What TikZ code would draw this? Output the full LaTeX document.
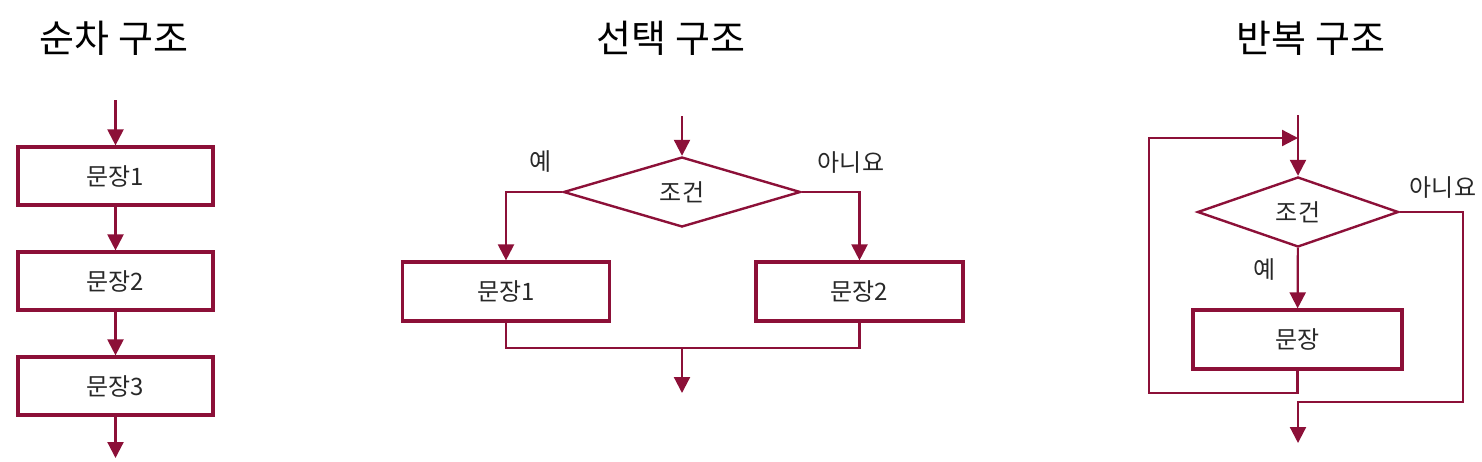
\documentclass[tikz,border=0pt]{standalone}
\usepackage{fontspec}
\setmainfont{Noto Sans CJK KR}
\usetikzlibrary{arrows.meta,shapes.geometric}

\definecolor{flowred}{RGB}{140,16,56}
\definecolor{txtgray}{RGB}{40,40,40}

\tikzset{
  title/.style={font=\fontsize{19}{22}\selectfont, text=black},
  box/.style={draw=flowred, line width=1.6pt, minimum width=97.5pt, minimum height=29pt,
    inner sep=0pt, text=txtgray, font=\fontsize{12}{14}\selectfont},
  cond/.style={diamond, aspect=3, draw=flowred, line width=1.2pt, minimum width=118.5pt,
    minimum height=35pt, inner sep=0pt, text=txtgray, font=\fontsize{12}{14}\selectfont},
  lbl/.style={text=txtgray, font=\fontsize{12}{14}\selectfont},
  line/.style={draw=flowred, line width=1.1pt},
  flow/.style={line, -{Triangle[length=8pt,width=8pt]}}
}

\begin{document}
\begin{tikzpicture}[x=0.5pt,y=-0.5pt]

\useasboundingbox (0,0) rectangle (1482,461);

% ------------------- Links: 순차 구조 -------------------
\node[title] (seqtitle) at (114,38) {순차 구조};

\coordinate (seqin) at (115.5,100);
\node[box] (seq1) at (115.5,176) {문장1};
\node[box] (seq2) at (115.5,281) {문장2};
\node[box] (seq3) at (115.5,386) {문장3};
\coordinate (seqout) at (115.5,458);

\draw[flow] (seqin) -- (seq1);
\draw[flow] (seq1) -- (seq2);
\draw[flow] (seq2) -- (seq3);
\draw[flow] (seq3) -- (seqout);

% ------------------- Mitte: 선택 구조 -------------------
\node[title] (seltitle) at (671,38) {선택 구조};

\coordinate (selin) at (682,116);
\node[cond] (selcond) at (682,192) {조건};
\node[box, minimum width=103.5pt, minimum height=29.5pt] (sel1) at (506,291.5) {문장1};
\node[box, minimum width=103.5pt, minimum height=29.5pt] (sel2) at (859.5,291.5) {문장2};
\coordinate (seljoin) at (682,348);
\coordinate (selout) at (682,393);

% Verzweigung
\draw[flow] (selin) -- (selcond);
\draw[flow] (selcond.west) -| (sel1);
\draw[flow] (selcond.east) -| (sel2);
\node[lbl] (selyes) at (541,162) {예};
\node[lbl] (selno) at (851,163) {아니요};

% Zusammenfuehrung
\draw[line] (sel1.south) |- (seljoin) -| (sel2.south);
\draw[flow] (seljoin) -- (selout);

% ------------------- Rechts: 반복 구조 -------------------
\node[title] (reptitle) at (1311,38) {반복 구조};

\coordinate (repin) at (1298,115);
\node[cond, minimum width=100.5pt] (repcond) at (1298,212) {조건};
\node[box, minimum width=104.5pt, minimum height=29.5pt] (repbody) at (1297.5,339.5) {문장};
\coordinate (repback) at (1149,393);
\coordinate (repentry) at (1298,138);
\coordinate (repturn) at (1463,402);
\coordinate (repout) at (1298,443);

\draw[flow] (repin) -- (repcond);
\draw[flow] (repcond) -- (repbody);
\node[lbl] (repyes) at (1265,270) {예};
\node[lbl] (repno) at (1443,188) {아니요};

% Rueckfuehrung und Ausgang
\draw[flow] (repbody.south) |- (repback) |- (repentry);
\draw[flow] (repcond.east) -| (repturn) -| (repout);

\end{tikzpicture}
\end{document}
